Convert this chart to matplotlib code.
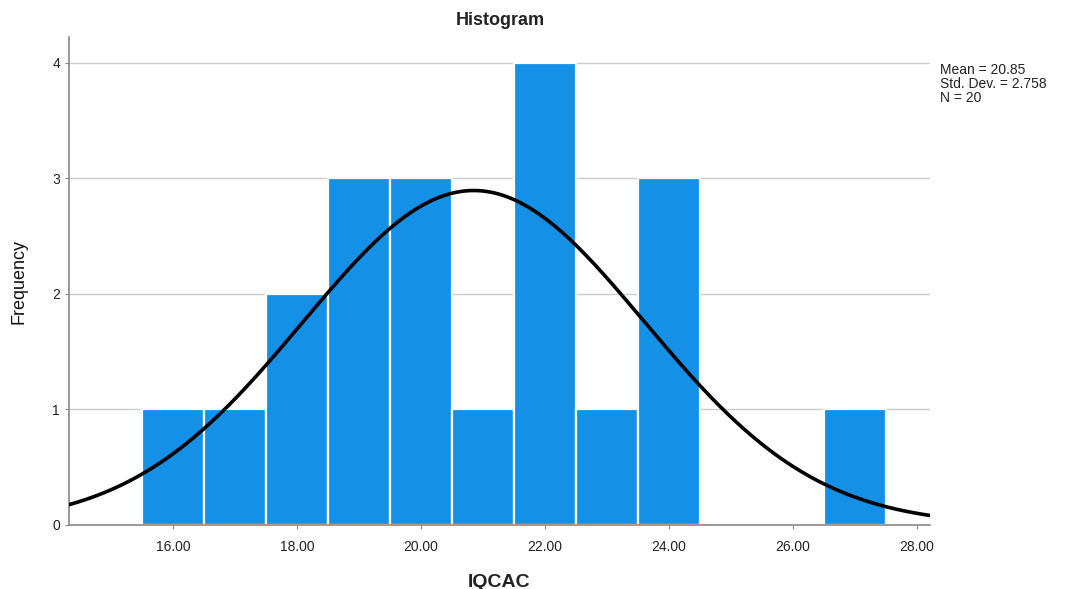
import numpy as np
import matplotlib.pyplot as plt

# histogram bins (centres) and counts
bin_centres = [16, 17, 18, 19, 20, 21, 22, 23, 24, 25, 26, 27]
counts = [1, 1, 2, 3, 3, 1, 4, 1, 3, 0, 0, 1]
x_ticks = [16, 18, 20, 22, 24, 26, 28]
y_ticks = [0, 1, 2, 3, 4]

mean = 20.85
std_dev = 2.758
n = 20

plt.rcParams['font.family'] = ['Liberation Sans', 'DejaVu Sans']

fig = plt.figure(figsize=(10.68, 5.89), dpi=100)
ax = fig.add_axes([0.0646, 0.1087, 0.8062, 0.8283])

ax.bar(bin_centres, counts, width=1.0, color='#1490E6', edgecolor='white', linewidth=1.6, zorder=2)

# normal curve scaled to counts (bin width 1)
xs = np.linspace(14.32, 28.21, 400)
ys = n * 1.0 / (std_dev * np.sqrt(2 * np.pi)) * np.exp(-0.5 * ((xs - mean) / std_dev) ** 2)
ax.plot(xs, ys, color='black', linewidth=2.6, zorder=3)

ax.set_xlim(14.32, 28.21)
ax.set_ylim(0, 4.22)
ax.set_xticks(x_ticks)
ax.set_xticklabels(['%.2f' % t for t in x_ticks], fontsize=10, color='#222222')
ax.set_yticks(y_ticks)
ax.set_yticklabels([str(t) for t in y_ticks], fontsize=10, color='#222222')
ax.tick_params(axis='both', length=3, color='#888888')
ax.tick_params(axis='x', pad=8)
ax.yaxis.grid(True, color='#cccccc', linewidth=1.0, zorder=0)
ax.set_axisbelow(True)

for side in ['top', 'right']:
    ax.spines[side].set_visible(False)
for side in ['left', 'bottom']:
    ax.spines[side].set_color('#888888')
    ax.spines[side].set_linewidth(1.2)

fig.text(0.468, 0.966, 'Histogram', fontsize=13, fontweight='bold', color='#222222',
         ha='center', va='center')
ax.set_xlabel('IQCAC', fontsize=14, fontweight='bold', labelpad=14, color='#222222')
ax.set_ylabel('Frequency', fontsize=13, labelpad=18, color='#111111')

fig.text(0.880, 0.893, 'Mean = %.2f\nStd. Dev. = %.3f\nN = %d' % (mean, std_dev, n),
         fontsize=10, va='top', ha='left', linespacing=1.0, color='#222222')

fig.savefig('out.png', dpi=100)
